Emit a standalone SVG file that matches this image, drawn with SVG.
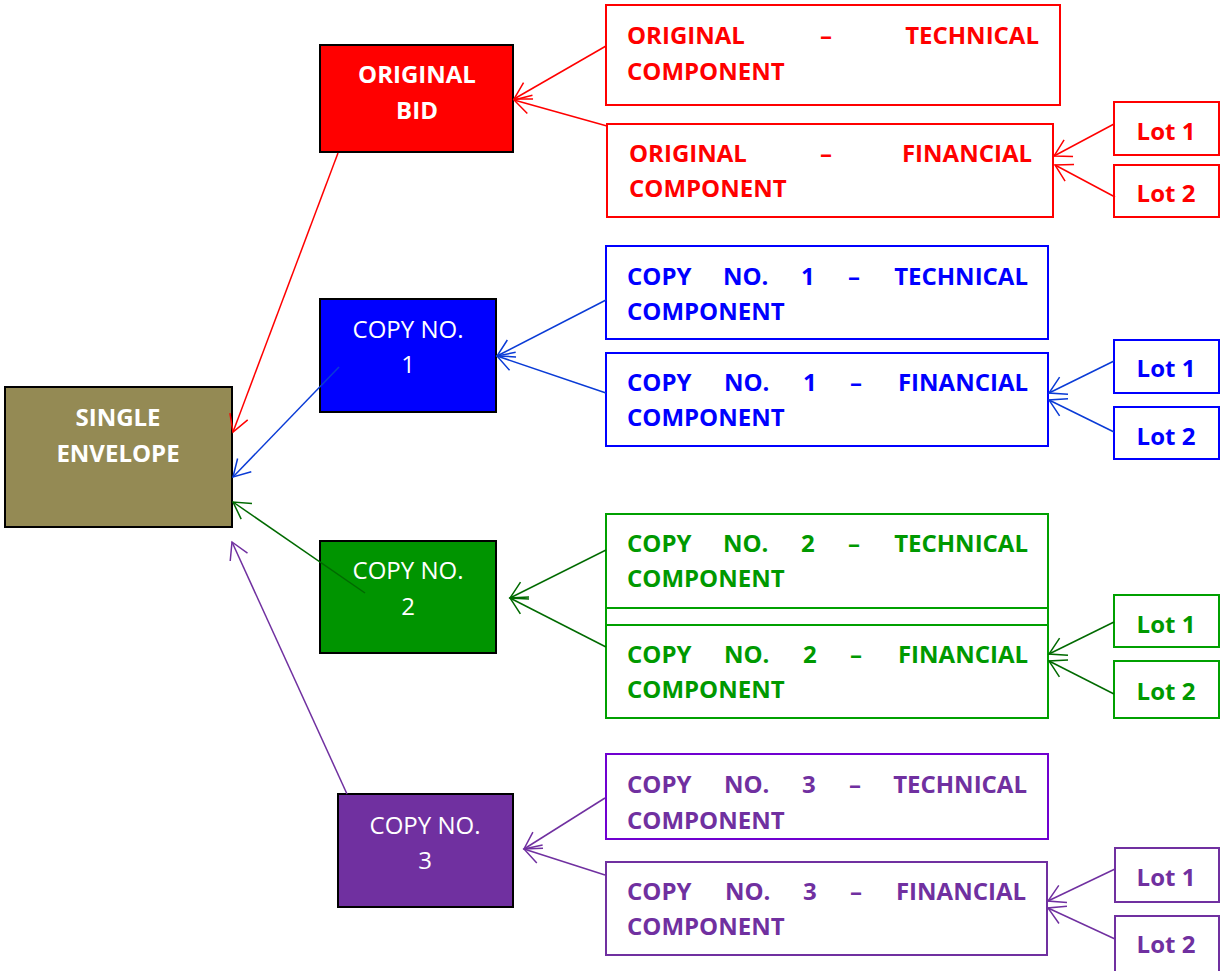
<svg xmlns="http://www.w3.org/2000/svg" width="1220" height="971" viewBox="0 0 1220 971">
<defs>
<style>
text{font-family:"Open Sans","Liberation Sans",sans-serif;font-size:24px}
.b{font-weight:bold}
.w{fill:#fff}
.mid{text-anchor:middle}
.end{text-anchor:end}
.node{stroke:#000;stroke-width:2}
.box{fill:#fff;stroke-width:2}
.r{fill:#ff0000}.rs{stroke:#ff0000}
.bl{fill:#0000ff}.bls{stroke:#0000ff}
.g{fill:#009900}.gs{stroke:#00a000}
.p{fill:#7030a0}.ps{stroke:#7030a0}
.c{fill:none;stroke-width:1.5}
</style>
<marker id="ar" viewBox="-20 -11 22 22" refX="0" refY="0" markerWidth="22" markerHeight="22" markerUnits="userSpaceOnUse" orient="auto"><path d="M-16.5,-9.5 L0,0 L-16.5,9.5" fill="none" stroke="#ff0000" stroke-width="1.5"/></marker>
<marker id="ab" viewBox="-20 -11 22 22" refX="0" refY="0" markerWidth="22" markerHeight="22" markerUnits="userSpaceOnUse" orient="auto"><path d="M-16.5,-9.5 L0,0 L-16.5,9.5" fill="none" stroke="#0a3bd6" stroke-width="1.5"/></marker>
<marker id="ag" viewBox="-20 -11 22 22" refX="0" refY="0" markerWidth="22" markerHeight="22" markerUnits="userSpaceOnUse" orient="auto"><path d="M-16.5,-9.5 L0,0 L-16.5,9.5" fill="none" stroke="#006a00" stroke-width="1.5"/></marker>
<marker id="ap" viewBox="-20 -11 22 22" refX="0" refY="0" markerWidth="22" markerHeight="22" markerUnits="userSpaceOnUse" orient="auto"><path d="M-16.5,-9.5 L0,0 L-16.5,9.5" fill="none" stroke="#7030a0" stroke-width="1.5"/></marker>
</defs>
<rect width="1220" height="971" fill="#fff"/>

<g id="single-envelope">
<rect class="node" x="5" y="387" width="227" height="140" fill="#948a54"/>
<text class="b w mid" x="118" y="426">SINGLE</text>
<text class="b w mid" x="118" y="462">ENVELOPE</text>
</g>

<g id="original-bid">
<rect class="node" x="320" y="45" width="193" height="107" fill="#ff0000"/>
<text class="b w mid" x="417" y="83">ORIGINAL</text>
<text class="b w mid" x="417" y="119">BID</text>
</g>
<g id="orig-tech">
<rect class="box rs" x="606" y="5" width="454" height="100"/>
<text class="b r" y="44"><tspan x="627">ORIGINAL</tspan><tspan x="826" class="mid">–</tspan><tspan x="1039" class="end">TECHNICAL</tspan></text>
<text class="b r" x="627" y="80">COMPONENT</text>
</g>
<g id="orig-fin">
<rect class="box rs" x="607" y="124" width="446" height="93"/>
<text class="b r" y="162"><tspan x="629">ORIGINAL</tspan><tspan x="826" class="mid">–</tspan><tspan x="1032" class="end">FINANCIAL</tspan></text>
<text class="b r" x="629" y="197">COMPONENT</text>
</g>
<g id="orig-lot1"><rect class="box rs" x="1114" y="102" width="105" height="53"/><text class="b r mid" x="1166" y="140">Lot 1</text></g>
<g id="orig-lot2"><rect class="box rs" x="1114" y="165" width="105" height="52"/><text class="b r mid" x="1166" y="202">Lot 2</text></g>

<g id="copy1">
<rect class="node" x="320" y="299" width="176" height="113" fill="#0000ff"/>
<text class="w mid" x="408" y="338">COPY NO.</text>
<text class="w mid" x="408" y="373">1</text>
</g>
<g id="copy1-tech">
<rect class="box bls" x="606" y="246" width="442" height="93"/>
<text class="b bl" y="285"><tspan x="627">COPY</tspan><tspan x="723">NO.</tspan><tspan x="801">1</tspan><tspan x="854" class="mid">–</tspan><tspan x="1028" class="end">TECHNICAL</tspan></text>
<text class="b bl" x="627" y="320">COMPONENT</text>
</g>
<g id="copy1-fin">
<rect class="box bls" x="606" y="353" width="442" height="93"/>
<text class="b bl" y="391"><tspan x="627">COPY</tspan><tspan x="724">NO.</tspan><tspan x="803">1</tspan><tspan x="856" class="mid">–</tspan><tspan x="1028" class="end">FINANCIAL</tspan></text>
<text class="b bl" x="627" y="426">COMPONENT</text>
</g>
<g id="copy1-lot1"><rect class="box bls" x="1114" y="340" width="105" height="53"/><text class="b bl mid" x="1166" y="377">Lot 1</text></g>
<g id="copy1-lot2"><rect class="box bls" x="1114" y="407" width="105" height="52"/><text class="b bl mid" x="1166" y="445">Lot 2</text></g>

<g id="copy2">
<rect class="node" x="320" y="541" width="176" height="112" fill="#009400"/>
<text class="w mid" x="408" y="579">COPY NO.</text>
<text class="w mid" x="408" y="615">2</text>
</g>
<g id="copy2-tech">
<rect class="box gs" x="606" y="514" width="442" height="111"/>
<text class="b g" y="552"><tspan x="627">COPY</tspan><tspan x="723">NO.</tspan><tspan x="801">2</tspan><tspan x="854" class="mid">–</tspan><tspan x="1028" class="end">TECHNICAL</tspan></text>
<text class="b g" x="627" y="587">COMPONENT</text>
</g>
<g id="copy2-fin">
<rect class="box gs" fill="none" style="fill:none" x="606" y="608" width="442" height="110"/>
<text class="b g" y="663"><tspan x="627">COPY</tspan><tspan x="724">NO.</tspan><tspan x="803">2</tspan><tspan x="856" class="mid">–</tspan><tspan x="1028" class="end">FINANCIAL</tspan></text>
<text class="b g" x="627" y="698">COMPONENT</text>
</g>
<g id="copy2-lot1"><rect class="box gs" x="1114" y="595" width="105" height="52"/><text class="b g mid" x="1166" y="633">Lot 1</text></g>
<g id="copy2-lot2"><rect class="box gs" x="1114" y="661" width="105" height="57"/><text class="b g mid" x="1166" y="700">Lot 2</text></g>

<g id="copy3">
<rect class="node" x="338" y="794" width="175" height="113" fill="#7030a0"/>
<text class="w mid" x="425" y="834">COPY NO.</text>
<text class="w mid" x="425" y="869">3</text>
</g>
<g id="copy3-tech">
<rect class="box" stroke="#7000d0" x="606" y="754" width="442" height="85"/>
<text class="b p" y="793"><tspan x="627">COPY</tspan><tspan x="724">NO.</tspan><tspan x="802">3</tspan><tspan x="855" class="mid">–</tspan><tspan x="1027" class="end">TECHNICAL</tspan></text>
<text class="b p" x="627" y="829">COMPONENT</text>
</g>
<g id="copy3-fin">
<rect class="box ps" x="606" y="862" width="441" height="93"/>
<text class="b p" y="900"><tspan x="627">COPY</tspan><tspan x="725">NO.</tspan><tspan x="803">3</tspan><tspan x="856" class="mid">–</tspan><tspan x="1026" class="end">FINANCIAL</tspan></text>
<text class="b p" x="627" y="935">COMPONENT</text>
</g>
<g id="copy3-lot1"><rect class="box ps" x="1115" y="848" width="104" height="54"/><text class="b p mid" x="1166" y="886">Lot 1</text></g>
<g id="copy3-lot2"><rect class="box ps" x="1115" y="916" width="104" height="60"/><text class="b p mid" x="1166" y="953">Lot 2</text></g>

<g id="connectors">
<g stroke="#ff0000" class="c" marker-end="url(#ar)">
<line x1="606" y1="46" x2="514" y2="99"/>
<line x1="607" y1="126" x2="514" y2="100"/>
<line x1="1114" y1="124" x2="1054" y2="156"/>
<line x1="1115" y1="197" x2="1055" y2="165"/>
<line x1="338" y1="153" x2="233" y2="432"/>
</g>
<g stroke="#0a3bd6" class="c" marker-end="url(#ab)">
<line x1="606" y1="300" x2="497" y2="356"/>
<line x1="606" y1="393" x2="497" y2="356"/>
<line x1="1114" y1="361" x2="1049" y2="393"/>
<line x1="1114" y1="432" x2="1049" y2="400"/>
<line x1="339" y1="367" x2="233" y2="477"/>
</g>
<g stroke="#006a00" class="c" marker-end="url(#ag)">
<line x1="606" y1="550" x2="510" y2="598"/>
<line x1="606" y1="647" x2="510" y2="598"/>
<line x1="1114" y1="622" x2="1049" y2="654"/>
<line x1="1114" y1="694" x2="1049" y2="661"/>
<line x1="365" y1="593" x2="233" y2="502"/>
</g>
<g stroke="#7030a0" class="c" marker-end="url(#ap)">
<line x1="605" y1="798" x2="524" y2="849"/>
<line x1="605" y1="875" x2="524" y2="849"/>
<line x1="1115" y1="869" x2="1048" y2="901"/>
<line x1="1115" y1="939" x2="1048" y2="908"/>
<line x1="347" y1="794" x2="232" y2="542"/>
</g>
</g>
</svg>
